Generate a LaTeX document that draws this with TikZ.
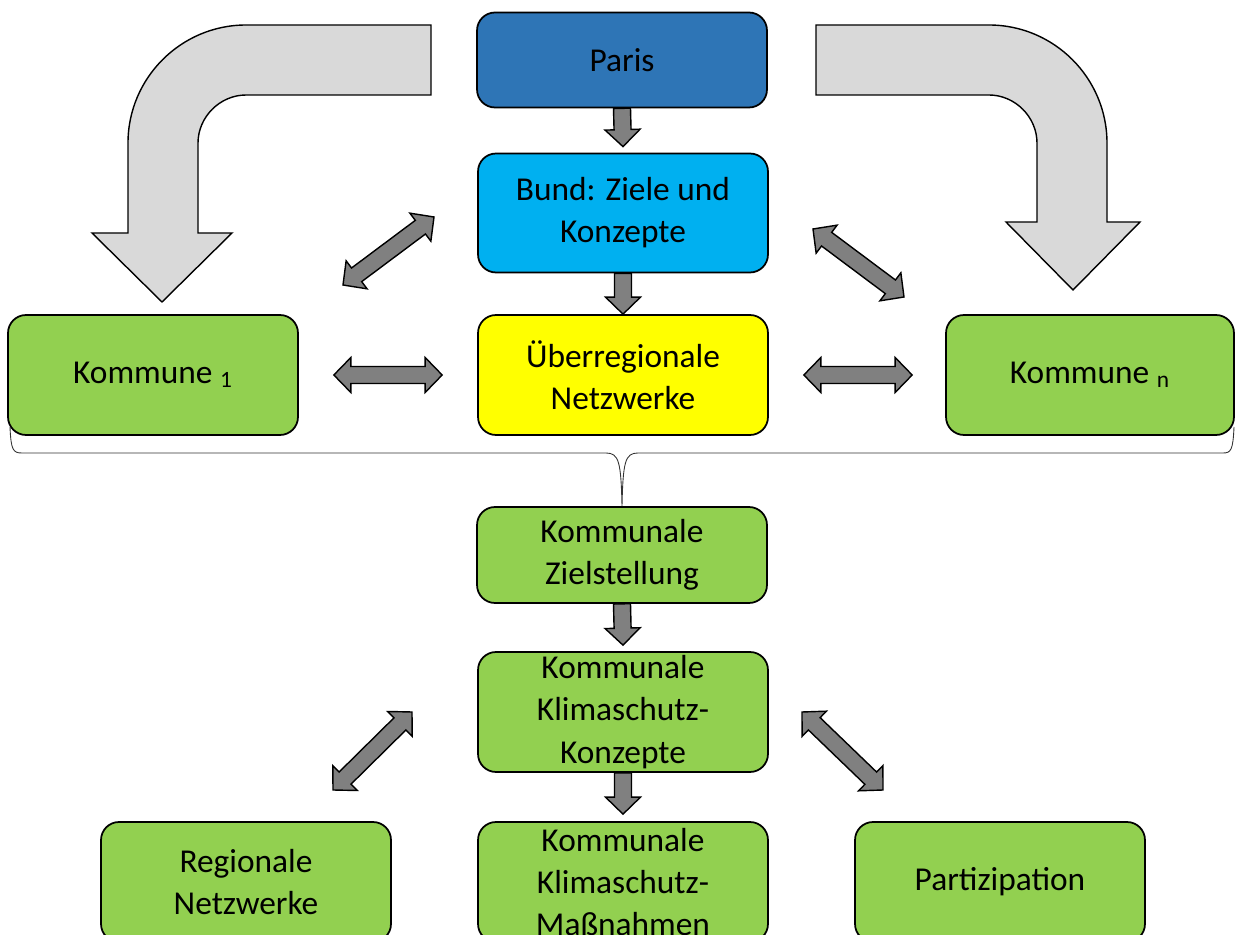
\documentclass[tikz,border=0pt]{standalone}
\usepackage{fontspec}
\setmainfont{Carlito}
\usetikzlibrary{calc}

\definecolor{parisblue}{HTML}{2E75B6}
\definecolor{bundblue}{HTML}{00B0F0}
\definecolor{netyellow}{HTML}{FFFF00}
\definecolor{komgreen}{HTML}{92D050}
\definecolor{arrowgray}{HTML}{808080}
\definecolor{bendgray}{HTML}{D9D9D9}

\newcommand\fatarrow[2]{%
  \coordinate (hb) at ($(#2)!0.34cm!(#1)$);
  \draw[smallarrow] ($(#1)!0.17cm!90:(#2)$) -- ($(hb)!0.17cm!90:(#2)$)
    -- ($(hb)!0.35cm!90:(#2)$) -- (#2) -- ($(hb)!0.35cm!-90:(#2)$)
    -- ($(hb)!0.17cm!-90:(#2)$) -- ($(#1)!0.17cm!-90:(#2)$) -- cycle;}
\newcommand\dblfatarrow[2]{%
  \coordinate (ht) at ($(#1)!0.34cm!(#2)$);
  \coordinate (hb) at ($(#2)!0.34cm!(#1)$);
  \draw[smallarrow] (#1) -- ($(ht)!0.35cm!90:(#2)$) -- ($(ht)!0.17cm!90:(#2)$)
    -- ($(hb)!0.17cm!90:(#2)$) -- ($(hb)!0.35cm!90:(#2)$) -- (#2)
    -- ($(hb)!0.35cm!-90:(#2)$) -- ($(hb)!0.17cm!-90:(#2)$)
    -- ($(ht)!0.17cm!-90:(#2)$) -- ($(ht)!0.35cm!-90:(#2)$) -- cycle;}

\begin{document}
\begin{tikzpicture}[x=0.02cm, y=-0.02cm,
    box/.style={draw=black, line width=1pt, rounded corners=0.36cm,
      minimum width=5.8cm, minimum height=2.4cm, inner sep=0pt,
      align=center, font=\fontsize{19}{24}\selectfont},
    smallarrow/.style={draw=black, line width=0.8pt, fill=arrowgray},
    bigarrow/.style={draw=black, line width=0.8pt, fill=bendgray},
    brace/.style={draw=black!80, line width=0.5pt}]
    \useasboundingbox (0,0) rectangle (1235,935);
    \clip (0,0) rectangle (1235,935);

    \draw[bigarrow] (431,25) -- (246,25) .. controls (181,25) and (128,78) .. (128,143)
        -- (128,233) -- (92,233) -- (162,302) -- (232,233) -- (198,233) -- (198,143)
        .. controls (198,117) and (220,95) .. (246,95) -- (431,95) -- cycle;
    \draw[bigarrow] (816,25) -- (989,25) .. controls (1054,25) and (1107,78) .. (1107,143)
        -- (1107,222) -- (1140,222) -- (1073,290) -- (1006,222) -- (1037,222) -- (1037,143)
        .. controls (1037,117) and (1015,95) .. (989,95) -- (816,95) -- cycle;

    \node[box, fill=parisblue, minimum height=1.9cm] (A) at (622,60) {Paris};
    \node[box, fill=bundblue, minimum height=2.38cm] (B) at (623,213) {Bund: Ziele und\\Konzepte};
    \node[box, fill=netyellow] (C) at (623,375) {Überregionale\\Netzwerke};
    \node[box, fill=komgreen] (D) at (153,375) {Kommune \textsubscript{1}};
    \node[box, fill=komgreen, minimum width=5.76cm] (E) at (1090,375) {Kommune \textsubscript{n}};
    \node[box, fill=komgreen, minimum height=1.92cm] (F) at (622,555) {Kommunale\\Zielstellung};
    \node[box, fill=komgreen] (G) at (623,712) {Kommunale\\Klimaschutz-\\Konzepte};
    \node[box, fill=komgreen] (H) at (246,882) {Regionale\\Netzwerke};
    \node[box, fill=komgreen] (I) at (623,882) {Kommunale\\Klimaschutz-\\Maßnahmen};
    \node[box, fill=komgreen] (J) at (1000,882) {Partizipation};

    \coordinate (b1) at ($(B.north)+(0,-6)$);
    \coordinate (g1) at ($(G.north)+(0,-6)$);
    \coordinate (i1) at ($(I.north)+(0,-7)$);
    \fatarrow{A.south}{b1}
    \fatarrow{B.south}{C.north}
    \fatarrow{F.south}{g1}
    \fatarrow{G.south}{i1}

    \coordinate (d1) at ($(D.east)+(35,0)$);
    \coordinate (c1) at ($(C.west)+(-35,0)$);
    \coordinate (c2) at ($(C.east)+(35,0)$);
    \coordinate (e1) at ($(E.west)+(-33,0)$);
    \dblfatarrow{d1}{c1}
    \dblfatarrow{c2}{e1}
    \coordinate (k1) at (343,285);
    \coordinate (k2) at (434,217);
    \coordinate (k3) at (813,229);
    \coordinate (k4) at (904,297);
    \dblfatarrow{k1}{k2}
    \dblfatarrow{k3}{k4}
    \coordinate (m1) at (333,790);
    \coordinate (m2) at (412,712);
    \coordinate (m3) at (802,712);
    \coordinate (m4) at (883,790);
    \dblfatarrow{m1}{m2}
    \dblfatarrow{m3}{m4}

    \draw[brace] (10,427) .. controls (11,450) and (13,453) .. (22,453) -- (606,453)
        .. controls (619,453) and (621,462) .. (F.north)
        .. controls (623,462) and (625,453) .. (638,453) -- (1223,453)
        .. controls (1231,453) and (1233,450) .. (1234,427);
\end{tikzpicture}
\end{document}
